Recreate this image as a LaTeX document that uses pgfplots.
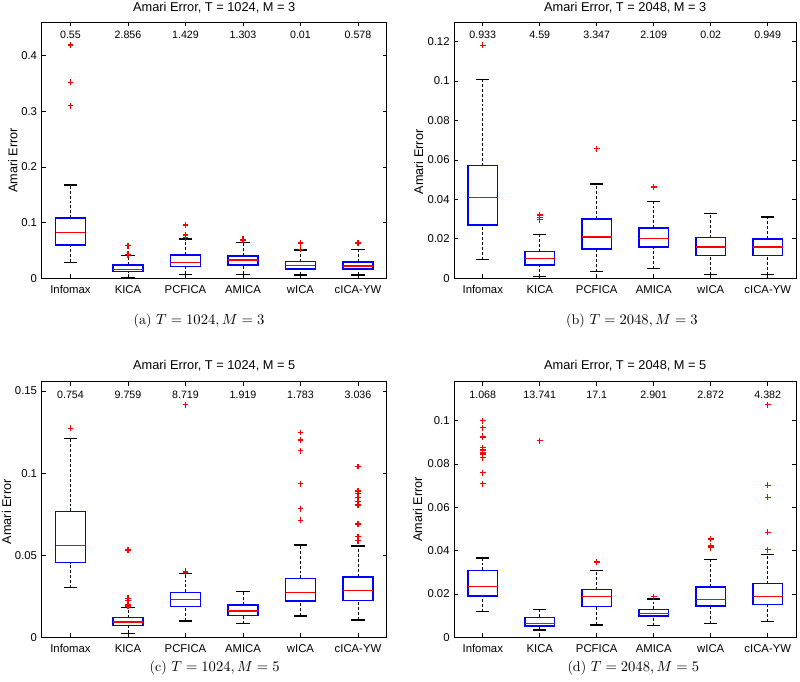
\documentclass[border=0pt]{standalone}
\usepackage{pgfplots}
\pgfplotsset{compat=1.18}
\usepgfplotslibrary{statistics}
\usepackage{fontspec}
\newfontfamily\hv{Liberation Sans}
\newcommand{\tickfont}{\hv\fontsize{8.5}{10}\selectfont}
\newcommand{\numfont}{\hv\fontsize{8}{10}\selectfont}
\newcommand{\titlefont}{\hv\fontsize{9.6}{12}\selectfont}
\newcommand{\labfont}{\hv\fontsize{9.5}{11}\selectfont}
% box with outliers
\newcommand{\bx}[7]{%
  \addplot[red, mark=+, mark size=2.2pt, mark options={solid,line width=0.9pt},
    boxplot prepared={draw position=#1, lower whisker=#2, lower quartile=#3,
      median=#4, upper quartile=#5, upper whisker=#6}]
    table[row sep=\\, y index=0] {y\\ #7};}
% box without outliers
\newcommand{\bxn}[6]{%
  \addplot[red, mark=+, mark size=2.2pt, mark options={solid,line width=0.9pt},
    boxplot prepared={draw position=#1, lower whisker=#2, lower quartile=#3,
      median=#4, upper quartile=#5, upper whisker=#6}]
    coordinates {};}
\definecolor{mblue}{RGB}{0,0,255}
\begin{document}
\begin{tikzpicture}
\path[use as bounding box, fill=white] (0,0) rectangle (600pt,511.5pt);
\pgfplotsset{
  amari/.style={
    scale only axis, clip=false,
    anchor=south west,
    xmin=0.5, xmax=6.5, ymin=0,
    xtick={1,2,3,4,5,6},
    xticklabels={Infomax,KICA,PCFICA,AMICA,wICA,cICA-YW},
    tick align=inside, tick pos=both,
    major tick length=3pt,
    axis line style={line width=0.75pt},
    tick style={black, line width=0.6pt},
    ticklabel style={font=\tickfont},
    xticklabel style={yshift=-2pt},
    boxplot/draw direction=y,
    boxplot/box extend=0.52,
    boxplot/whisker extend=0.23,
    boxplot/every box/.style={draw=mblue, line width=1.2pt},
    boxplot/every median/.style={draw=red, line width=1pt},
    boxplot/draw/lower whisker/.code={%
      \draw[black, line width=0.6pt, dash pattern=on 2.2pt off 1.5pt]
        (boxplot box cs:\pgfplotsboxplotvalue{lower whisker},0.5) --
        (boxplot box cs:\pgfplotsboxplotvalue{lower quartile},0.5);
      \draw[black, line width=0.9pt, solid]
        (boxplot whisker cs:\pgfplotsboxplotvalue{lower whisker},0) --
        (boxplot whisker cs:\pgfplotsboxplotvalue{lower whisker},1);
    },
    boxplot/draw/upper whisker/.code={%
      \draw[black, line width=0.6pt, dash pattern=on 2.2pt off 1.5pt]
        (boxplot box cs:\pgfplotsboxplotvalue{upper quartile},0.5) --
        (boxplot box cs:\pgfplotsboxplotvalue{upper whisker},0.5);
      \draw[black, line width=0.9pt, solid]
        (boxplot whisker cs:\pgfplotsboxplotvalue{upper whisker},0) --
        (boxplot whisker cs:\pgfplotsboxplotvalue{upper whisker},1);
    },
  },
}

% ---------- (a) T=1024, M=3
\begin{axis}[amari, at={(31.3pt,302.8pt)}, width=258.75pt, height=192pt,
  ymax=0.46, ytick={0,0.1,0.2,0.3,0.4}, yticklabels={0,0.1,0.2,0.3,0.4}]
\bx{1}{0.0287}{0.0599}{0.082}{0.1078}{0.1677}{0.419\\ 0.352\\ 0.310\\}
\bx{2}{0.0018}{0.012}{0.0162}{0.024}{0.0407}{0.0587\\ 0.0431\\ 0.0425\\}
\bx{3}{0.0072}{0.021}{0.028}{0.0419}{0.0707}{0.0958\\ 0.0778\\ 0.073\\}
\bx{4}{0.0072}{0.024}{0.033}{0.040}{0.0647}{0.070\\ 0.0685\\}
\bx{5}{0.006}{0.0162}{0.0228}{0.030}{0.0509}{0.0635\\ 0.052\\}
\bx{6}{0.006}{0.0162}{0.0222}{0.029}{0.0515}{0.0635\\}
\node[font=\numfont] at (axis cs:1,0.437) {0.55};
\node[font=\numfont] at (axis cs:2,0.437) {2.856};
\node[font=\numfont] at (axis cs:3,0.437) {1.429};
\node[font=\numfont] at (axis cs:4,0.437) {1.303};
\node[font=\numfont] at (axis cs:5,0.437) {0.01};
\node[font=\numfont] at (axis cs:6,0.437) {0.578};
\node[font=\titlefont] at (axis cs:3.5,0.486) {Amari Error, T = 1024, M = 3};
\node[font=\labfont, rotate=90] at (axis cs:-0.004,0.212) {Amari Error};
\end{axis}

% ---------- (b) T=2048, M=3
\begin{axis}[amari, at={(340.7pt,302.8pt)}, width=256.5pt, height=192pt,
  ymax=0.1298, ytick={0,0.02,0.04,0.06,0.08,0.1,0.12},
  yticklabels={0,0.02,0.04,0.06,0.08,0.1,0.12}]
\bx{1}{0.0095}{0.027}{0.0409}{0.0571}{0.1006}{0.1181\\}
\bx{2}{0.0008}{0.0068}{0.0101}{0.0135}{0.0221}{0.0321\\ 0.0310\\ 0.0296\\}
\bx{3}{0.0034}{0.0149}{0.021}{0.0301}{0.0478}{0.0657\\}
\bx{4}{0.0049}{0.0157}{0.0203}{0.0254}{0.0389}{0.0463\\}
\bxn{5}{0.0019}{0.0115}{0.0159}{0.0206}{0.0328}
\bxn{6}{0.0019}{0.0115}{0.0159}{0.0199}{0.0311}
\node[font=\numfont] at (axis cs:1,0.1235) {0.933};
\node[font=\numfont] at (axis cs:2,0.1235) {4.59};
\node[font=\numfont] at (axis cs:3,0.1235) {3.347};
\node[font=\numfont] at (axis cs:4,0.1235) {2.109};
\node[font=\numfont] at (axis cs:5,0.1235) {0.02};
\node[font=\numfont] at (axis cs:6,0.1235) {0.949};
\node[font=\titlefont] at (axis cs:3.5,0.1372) {Amari Error, T = 2048, M = 3};
\node[font=\labfont, rotate=90] at (axis cs:-0.126,0.059) {Amari Error};
\end{axis}

% ---------- (c) T=1024, M=5
\begin{axis}[amari, at={(31.3pt,33.5pt)}, width=258.75pt, height=191.7pt,
  ymax=0.1557, ytick={0,0.05,0.1,0.15}, yticklabels={0,0.05,0.1,0.15}]
\bx{1}{0.0302}{0.0455}{0.056}{0.0767}{0.1212}{0.1273\\}
\bx{2}{0.0024}{0.0073}{0.0093}{0.012}{0.0183}{0.0532\\ 0.0238\\ 0.0223\\ 0.0200\\ 0.0195\\ 0.0190\\}
\bx{3}{0.0099}{0.0189}{0.0231}{0.0274}{0.0388}{0.1417\\ 0.0402\\ 0.0398\\}
\bxn{4}{0.0083}{0.0132}{0.016}{0.0197}{0.0278}
\bx{5}{0.013}{0.0221}{0.0274}{0.0359}{0.0562}{0.1248\\ 0.1202\\ 0.1137\\ 0.0936\\ 0.0784\\ 0.0713\\}
\bx{6}{0.0106}{0.0225}{0.0284}{0.0367}{0.0556}{0.1041\\ 0.0891\\ 0.0877\\ 0.0851\\ 0.0826\\ 0.0806\\ 0.069\\ 0.0613\\ 0.0589\\}
\node[font=\numfont] at (axis cs:1,0.1479) {0.754};
\node[font=\numfont] at (axis cs:2,0.1479) {9.759};
\node[font=\numfont] at (axis cs:3,0.1479) {8.719};
\node[font=\numfont] at (axis cs:4,0.1479) {1.919};
\node[font=\numfont] at (axis cs:5,0.1479) {1.783};
\node[font=\numfont] at (axis cs:6,0.1479) {3.036};
\node[font=\titlefont] at (axis cs:3.5,0.1655) {Amari Error, T = 1024, M = 5};
\node[font=\labfont, rotate=90] at (axis cs:-0.109,0.0765) {Amari Error};
\end{axis}

% ---------- (d) T=2048, M=5
\begin{axis}[amari, at={(340.7pt,33.5pt)}, width=256.5pt, height=191.7pt,
  ymax=0.118, ytick={0,0.02,0.04,0.06,0.08,0.1},
  yticklabels={0,0.02,0.04,0.06,0.08,0.1}]
\bx{1}{0.0118}{0.0192}{0.0235}{0.0309}{0.0366}{0.1\\ 0.0968\\ 0.0929\\ 0.0923\\ 0.0875\\ 0.0865\\ 0.0855\\ 0.0846\\ 0.0829\\ 0.076\\ 0.0709\\}
\bx{2}{0.0034}{0.0051}{0.0063}{0.0092}{0.0129}{0.0908\\}
\bx{3}{0.0057}{0.0143}{0.0188}{0.022}{0.0308}{0.0348\\}
\bx{4}{0.0054}{0.0098}{0.0111}{0.0129}{0.0177}{0.0188\\}
\bx{5}{0.0063}{0.0145}{0.0175}{0.0232}{0.036}{0.0454\\ 0.0422\\ 0.0414\\}
\bx{6}{0.0072}{0.0152}{0.0188}{0.0248}{0.0382}{0.1074\\ 0.0702\\ 0.0646\\ 0.0485\\ 0.0405\\}
\node[font=\numfont] at (axis cs:1,0.1121) {1.068};
\node[font=\numfont] at (axis cs:2,0.1121) {13.741};
\node[font=\numfont] at (axis cs:3,0.1121) {17.1};
\node[font=\numfont] at (axis cs:4,0.1121) {2.901};
\node[font=\numfont] at (axis cs:5,0.1121) {2.872};
\node[font=\numfont] at (axis cs:6,0.1121) {4.382};
\node[font=\titlefont] at (axis cs:3.5,0.1254) {Amari Error, T = 2048, M = 5};
\node[font=\labfont, rotate=90] at (axis cs:-0.143,0.059) {Amari Error};
\end{axis}

% captions
\node[font=\fontsize{10.5}{12}\selectfont] at (149.25pt,270.75pt) {(a) $T = 1024, M = 3$};
\node[font=\fontsize{10.5}{12}\selectfont] at (474pt,270.75pt) {(b) $T = 2048, M = 3$};
\node[font=\fontsize{10.5}{12}\selectfont] at (161pt,10.5pt) {(c) $T = 1024, M = 5$};
\node[font=\fontsize{10.5}{12}\selectfont] at (475pt,10.5pt) {(d) $T = 2048, M = 5$};
\end{tikzpicture}
\end{document}
